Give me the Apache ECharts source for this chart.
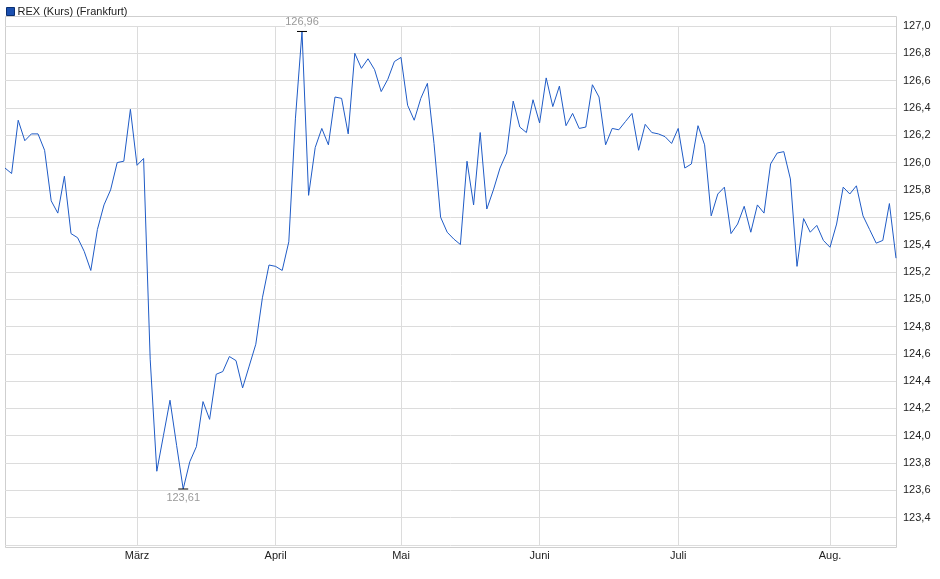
<!DOCTYPE html>
<html><head><meta charset="utf-8">
<script src="https://cdn.jsdelivr.net/npm/echarts@6/dist/echarts.min.js"></script>
<style>html,body{margin:0;padding:0;background:#fff}#c{width:940px;height:579px}</style>
</head><body><div id="c"></div>
<script>
const values = [125.96,125.92,126.31,126.16,126.21,126.21,126.09,125.72,125.63,125.90,
125.48,125.45,125.35,125.21,125.51,125.69,125.80,126.00,126.01,126.39,
125.98,126.03,124.56,123.74,124.00,124.26,123.93,123.61,123.81,123.92,
124.25,124.12,124.45,124.47,124.58,124.55,124.35,124.51,124.67,125.01,
125.25,125.24,125.21,125.42,126.32,126.96,125.76,126.11,126.25,126.13,
126.48,126.47,126.21,126.80,126.69,126.76,126.68,126.52,126.61,126.74,
126.77,126.42,126.31,126.47,126.58,126.14,125.60,125.49,125.44,125.40,
126.01,125.69,126.22,125.66,125.80,125.96,126.07,126.45,126.26,126.22,
126.46,126.29,126.62,126.41,126.56,126.27,126.36,126.25,126.26,126.57,
126.48,126.13,126.25,126.24,126.30,126.36,126.09,126.28,126.22,126.21,
126.19,126.14,126.25,125.96,125.99,126.27,126.13,125.61,125.77,125.82,
125.48,125.55,125.68,125.49,125.69,125.63,125.99,126.07,126.08,125.88,
125.24,125.59,125.49,125.54,125.43,125.38,125.55,125.82,125.77,125.83,
125.61,125.51,125.41,125.43,125.70,125.30];
const categories = values.map((v,i)=>String(i));
const monthIdx = [20,41,60,81,102,125];
const monthLabels = ['März','April','Mai','Juni','Juli','Aug.'];
const fmt = v => v.toFixed(1).replace('.',',');
const fmt2 = v => v.toFixed(2).replace('.',',');
const ch = echarts.init(document.getElementById('c'));
const font = 'Liberation Sans, Arial, sans-serif';
ch.setOption({
  animation:false,
  textStyle:{fontFamily:font},
  legend:{left:1,top:1,icon:'rect',itemWidth:8,itemHeight:8,itemGap:4,
    textStyle:{fontSize:11,color:'#222',fontFamily:font,padding:[0,0,0,-2]},
    data:[{name:'REX (Kurs) (Frankfurt)',itemStyle:{color:'#1a4fb0',borderColor:'#0a2f70',borderWidth:1}}]},
  grid:{left:5,right:44,top:26,bottom:34},
  graphic:[{type:'rect',shape:{x:5.5,y:16.5,width:891,height:531},style:{fill:'none',stroke:'#cfcfcf',lineWidth:1},silent:true,z:-1}],
  xAxis:{type:'category',data:categories,boundaryGap:false,
    axisLine:{show:false},
    axisTick:{show:false},
    axisLabel:{interval:(i)=>monthIdx.includes(i),formatter:(v,i)=>monthLabels[monthIdx.indexOf(+v)]||'',
      fontSize:11,color:'#222',margin:5,fontFamily:font},
    splitLine:{show:true,interval:(i)=>monthIdx.includes(i),lineStyle:{color:'#dcdcdc'}}},
  yAxis:{type:'value',position:'right',min:123.2,max:127.0,interval:0.2,
    axisLine:{show:false},axisTick:{show:false},
    axisLabel:{formatter:v=>v<123.3?'':fmt(v),fontSize:11,color:'#222',margin:7,fontFamily:font},
    splitLine:{lineStyle:{color:'#dcdcdc'}}},
  series:[{name:'REX (Kurs) (Frankfurt)',type:'line',data:values,symbol:'none',
    lineStyle:{color:'#1f5bc6',width:1},itemStyle:{color:'#1a4fb0'},
    markPoint:{symbol:'rect',symbolSize:[10,1],itemStyle:{color:'#000'},
      data:[
        {type:'max',label:{show:true,position:'top',distance:3,formatter:p=>fmt2(p.value),color:'#999',fontSize:11,backgroundColor:'rgba(255,255,255,0.85)'}},
        {type:'min',label:{show:true,position:'bottom',distance:3,formatter:p=>fmt2(p.value),color:'#999',fontSize:11,backgroundColor:'rgba(255,255,255,0.85)'}}
      ]}}]
});
</script></body></html>
